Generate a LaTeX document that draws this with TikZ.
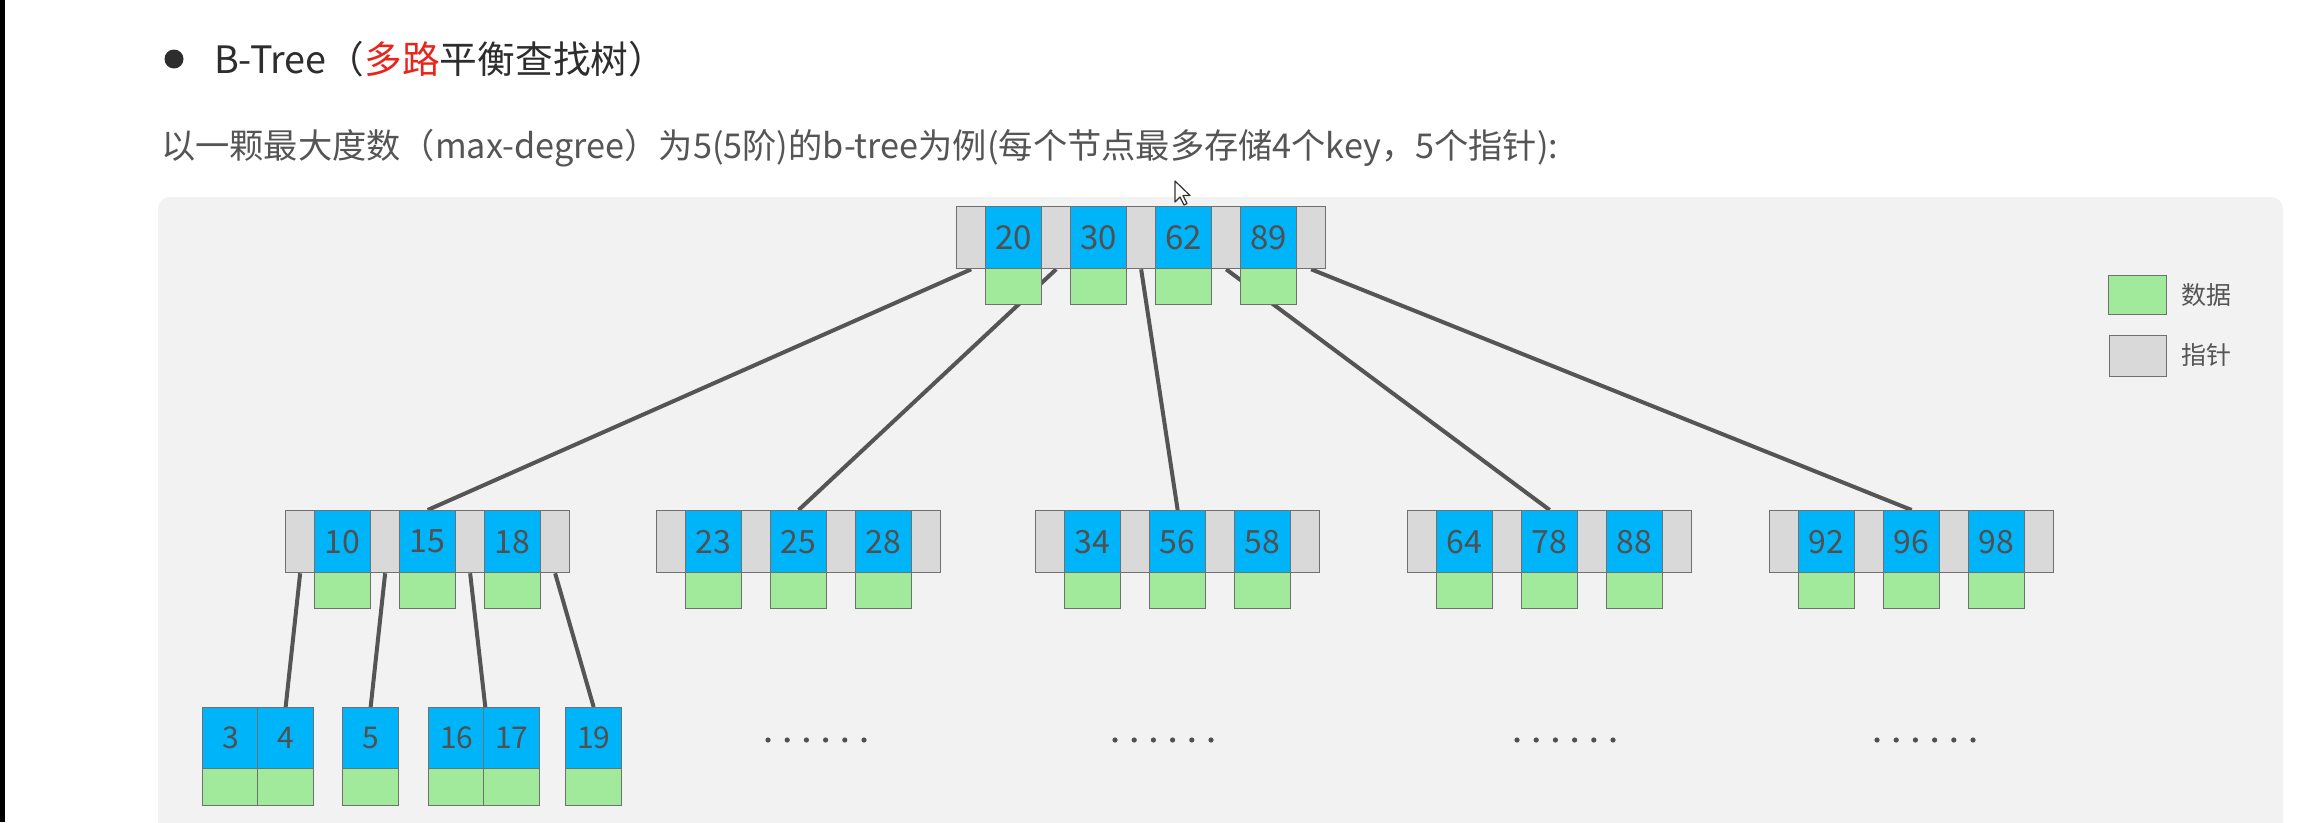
\documentclass[tikz,border=0pt]{standalone}
\usepackage{fontspec}
\usepackage{graphicx}
\setmainfont{Noto Sans CJK SC}
\pgfdeclarelayer{panel}
\pgfdeclarelayer{edges}
\pgfsetlayers{panel,edges,main}
\definecolor{keyblue}{RGB}{0,180,250}
\definecolor{datagreen}{RGB}{161,234,156}
\definecolor{ptrgray}{RGB}{217,217,217}
\definecolor{cellborder}{RGB}{112,112,112}
\definecolor{panelgray}{RGB}{242,242,242}
\definecolor{edgegray}{RGB}{85,85,85}
\definecolor{numgray}{RGB}{80,80,80}
\definecolor{titlered}{RGB}{232,36,28}
\definecolor{titlegray}{RGB}{45,45,45}
\definecolor{subgray}{RGB}{85,85,85}
\tikzset{
  cell/.style={draw=cellborder, line width=1.3pt, inner sep=0pt, anchor=north west, text=numgray},
  ptrcell/.style={cell, fill=ptrgray, minimum width=29pt, minimum height=62pt},
  keycell/.style={cell, fill=keyblue, minimum width=56pt, minimum height=62pt},
  datacell/.style={cell, fill=datagreen, minimum width=56pt, minimum height=36pt},
  leafkey/.style={keycell, minimum width=56pt, minimum height=61pt, font=\fontsize{30pt}{30pt}\selectfont},
  leafdata/.style={datacell, minimum width=56pt, minimum height=37pt},
  edge/.style={draw=edgegray, line width=4pt},
}
% #1 name, #2 left x, #3 top y, #4 number of keys, #5 keys, #6 font size
\newcommand\innernode[6]{%
  \foreach \k [count=\i from 0] in {#5} {
    \node[ptrcell] (#1-p\i) at ({#2+85*\i},#3) {};
    \node[keycell, font=\fontsize{#6}{#6}\selectfont] (#1-k\i) at ({#2+29+85*\i},#3) {\k};
    \node[datacell] (#1-d\i) at ({#2+29+85*\i},{#3+62}) {};
  }
  \node[ptrcell] (#1-p#4) at ({#2+85*#4},#3) {};
}
\begin{document}
\begin{tikzpicture}[x=1pt,y=-1pt]
\path[use as bounding box, clip] (0,0) rectangle (2298,822);
\begin{pgfonlayer}{panel}
\fill[white] (0,0) rectangle (2298,822);
\fill[black] (0,0) rectangle (5,822);
\fill[panelgray, rounded corners=12pt] (158,197) rectangle (2283,870);
\end{pgfonlayer}

% header
\fill[titlegray] (174,59) circle (9.5pt);
\node[anchor=west, inner sep=0pt, text=titlegray] (title) at (214,59)
  {\resizebox{452pt}{!}{\fontsize{37pt}{37pt}\selectfont B-Tree（\textcolor{titlered}{多路}平衡查找树）}};
\node[anchor=west, inner sep=0pt, text=subgray] (subtitle) at (161,148)
  {\resizebox{1397pt}{!}{\fontsize{34pt}{34pt}\selectfont 以一颗最大度数（max-degree）为5(5阶)的b-tree为例(每个节点最多存储4个key，5个指针):}};

% root
\innernode{r}{956}{206}{4}{20,30,62,89}{33pt}
% level 2
\innernode{a}{285}{510}{3}{10,15,18}{32pt}
\innernode{b}{656}{510}{3}{23,25,28}{32pt}
\innernode{c}{1035}{510}{3}{34,56,58}{32pt}
\innernode{d}{1407}{510}{3}{64,78,88}{32pt}
\innernode{e}{1769}{510}{3}{92,96,98}{32pt}

% leaves
\node[leafkey] (l1-k0) at (202,707) {3};
\node[leafkey] (l1-k1) at (257,707) {4};
\node[leafdata] (l1-d0) at (202,768) {};
\node[leafdata] (l1-d1) at (257,768) {};
\node[leafkey] (l2-k0) at (342,707) {5};
\node[leafdata] (l2-d0) at (342,768) {};
\node[leafkey] (l3-k0) at (428,707) {16};
\node[leafkey] (l3-k1) at (483,707) {17};
\node[leafdata] (l3-d0) at (428,768) {};
\node[leafdata] (l3-d1) at (483,768) {};
\node[leafkey] (l4-k0) at (565,707) {19};
\node[leafdata] (l4-d0) at (565,768) {};

% connectors
\begin{pgfonlayer}{edges}
\draw[edge] (r-p0.south) -- (a-k1.north);
\draw[edge] (r-p1.south) -- (b-k1.north);
\draw[edge] (r-p2.south) -- (c-k1.north);
\draw[edge] (r-p3.south) -- (d-k1.north);
\draw[edge] (r-p4.south) -- (e-k1.north);
\draw[edge] (a-p0.south) -- (l1-k1.north);
\draw[edge] (a-p1.south) -- (l2-k0.north);
\draw[edge] (a-p2.south) -- (l3-k0.north east);
\draw[edge] (a-p3.south) -- (l4-k0.north);
\end{pgfonlayer}

% ellipses
\foreach \sx in {768,1115,1517,1877}
  \foreach \j in {0,...,5}
    \fill[numgray] ({\sx+19.2*\j},740) circle (2.6pt);

% legend
\node[datacell, minimum width=58pt, minimum height=39pt] (lg-d) at (2108,275) {};
\node[ptrcell, minimum width=57pt, minimum height=41pt] (lg-p) at (2109,335) {};
\node[anchor=west, inner sep=0pt, text=subgray, font=\fontsize{25pt}{25pt}\selectfont] (lg-dt) at (2181,295) {数据};
\node[anchor=west, inner sep=0pt, text=subgray, font=\fontsize{25pt}{25pt}\selectfont] (lg-pt) at (2181,355) {指针};

% mouse cursor
\filldraw[fill=white, draw=black!80, line width=1.2pt, line join=round]
  (1175,181) -- ++(0,21) -- ++(5,-5) -- ++(4,8) -- ++(3,-1.5) -- ++(-4,-8) -- ++(7,0) -- cycle;
\end{tikzpicture}
\end{document}
